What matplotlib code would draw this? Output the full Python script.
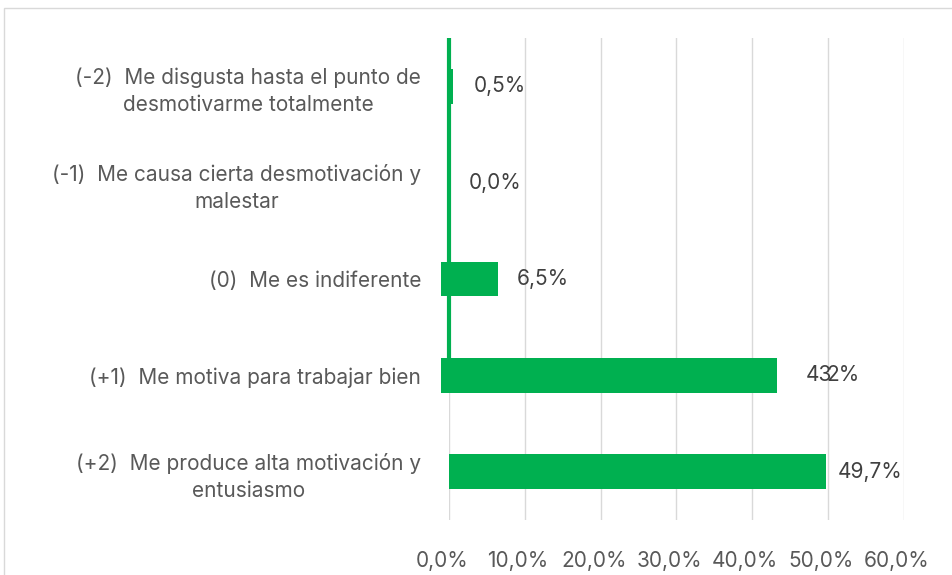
import matplotlib
matplotlib.use("Agg")
import matplotlib.pyplot as plt
from matplotlib.patches import Rectangle
from matplotlib.transforms import ScaledTranslation

plt.rcParams['font.family'] = ['Inter', 'DejaVu Sans']

categories = [
    "(-2)  Me disgusta hasta el punto de\ndesmotivarme totalmente",
    "(-1)  Me causa cierta desmotivación y\nmalestar",
    "(0)  Me es indiferente",
    "(+1)  Me motiva para trabajar bien",
    "(+2)  Me produce alta motivación y\nentusiasmo",
]
values = [0.5, 0.0, 6.5, 43.2, 49.7]
value_labels = ["0,5%", "0,0%", "6,5%", "43,2%", "49,7%"]
bar_starts = [0.0, 0.0, -1.0, -1.0, 0.0]
label_offsets = [2.7, 2.6, 2.5, 3.9, 1.6]
xticks = [0, 10, 20, 30, 40, 50, 60]
xtick_labels = ["0,0%", "10,0%", "20,0%", "30,0%", "40,0%", "50,0%", "60,0%"]

GREEN = "#00B050"
TEXT = "#595959"
FS = 15

fig = plt.figure(figsize=(9.53, 5.75), dpi=100)
fig.patches.append(Rectangle((4/953, -0.2), 1.3, 1 - 8/575 + 0.2, transform=fig.transFigure,
                             fill=False, edgecolor="#d9d9d9", linewidth=1.0, zorder=0))
ax = fig.add_axes([449/953, 1 - 520/575, 455/953, 482/575])

ypos = list(range(len(categories)))
widths = [v - s for v, s in zip(values, bar_starts)]
ax.barh(ypos, widths, left=bar_starts, height=0.36, color=GREEN, clip_on=False, zorder=3)
# vertical green line at zero (as in the reference)
ax.plot([0, 0], [-0.5, 3 - 0.18], color=GREEN, linewidth=3.0, zorder=3, clip_on=False,
        solid_capstyle="butt")

ax.set_ylim(len(categories) - 0.5, -0.5)
ax.set_xlim(0, 60)
ax.set_xticks(xticks)
ax.set_xticklabels(xtick_labels, fontsize=FS, color=TEXT)
ax.set_yticks(ypos)
ax.set_yticklabels(categories, fontsize=FS, color=TEXT, ha="right",
                   multialignment="center", linespacing=1.4)
ax.tick_params(axis="y", length=0, pad=20)
ax.tick_params(axis="x", length=0, pad=22)
shift = ScaledTranslation(-7/100, 0, fig.dpi_scale_trans)
for lab in ax.get_xticklabels():
    lab.set_transform(lab.get_transform() + shift)

ax.grid(axis="x", color="#d9d9d9", linewidth=1.0, zorder=0)
ax.set_axisbelow(True)
for s in ax.spines.values():
    s.set_visible(False)

for y, v, lbl, off in zip(ypos, values, value_labels, label_offsets):
    if lbl == "43,2%":
        ax.text(v + off, y, "43", fontsize=FS, color="#404040", va="center", ha="left", zorder=4)
        ax.text(v + off + 2.6, y, "2%", fontsize=FS, color="#404040", va="center", ha="left", zorder=4)
    else:
        ax.text(v + off, y, lbl, fontsize=FS, color="#404040", va="center", ha="left", zorder=4)

fig.savefig("out.png", dpi=100)
